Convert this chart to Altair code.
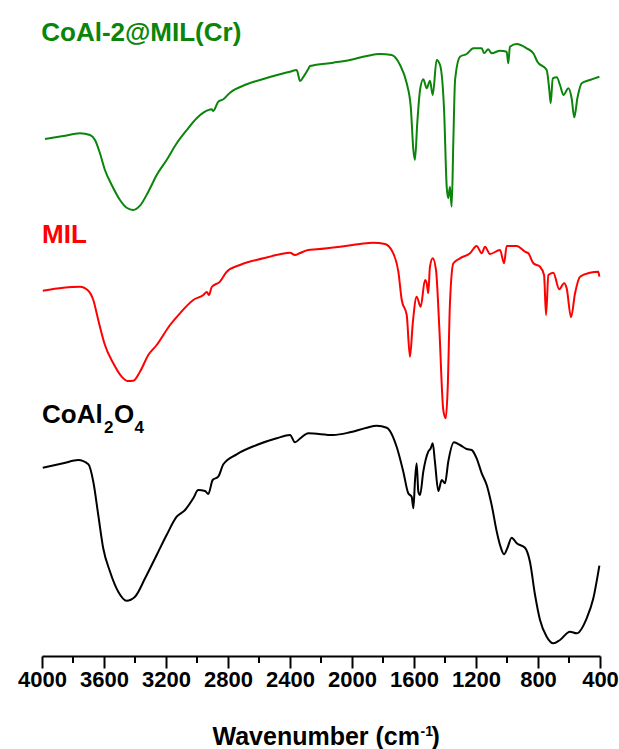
import altair as alt
import pandas as pd

# ---- data (wavenumber in cm-1, offset intensity in a.u.) ----
green_wn = [3981, 3863, 3755, 3690, 3658, 3626, 3594, 3550, 3497, 3454,
            3411, 3368, 3314, 3260, 3196, 3131, 3066, 3002, 2959, 2905,
            2895, 2863, 2830, 2787, 2679, 2572, 2465, 2400, 2357, 2335,
            2314, 2282, 2271, 2121, 2013, 1905, 1819, 1744, 1690, 1647,
            1621, 1604, 1594, 1579, 1561, 1540, 1518, 1497, 1479, 1454,
            1432, 1406, 1389, 1379, 1368, 1357, 1346, 1335, 1303, 1260,
            1217, 1163, 1148, 1121, 1099, 1045, 1002, 992, 981, 937,
            873, 830, 804, 744, 727, 718, 705, 679, 658, 636,
            604, 583, 566, 546, 518, 465, 404]
green_val = [517, 520, 522.7, 521, 516, 502.7, 486, 471, 456, 448.3,
             446, 450.3, 464.3, 481, 496, 512.7, 526, 537.7, 543.3, 546.7,
             545, 554.3, 556.7, 563.3, 571.7, 577, 581.7, 584.3, 586, 575,
             579, 587, 590, 593.3, 596, 600, 602, 601, 591, 572.7,
             549.3, 506, 496, 532.7, 566, 576.7, 567.7, 575.3, 561, 596,
             591, 546, 469.3, 457.7, 469.3, 449.3, 516, 576, 599.3, 602,
             607.7, 607.7, 602.7, 606.7, 602.7, 605.3, 604.3, 592.7, 609.3, 612,
             607.7, 602.7, 594.3, 586, 566, 552.7, 577.7, 578.7, 571, 561,
             567.7, 557.7, 538.7, 557.7, 572.7, 576, 579.3]

red_wn = [3995, 3863, 3755, 3701, 3669, 3637, 3594, 3540, 3486, 3450,
          3411, 3368, 3314, 3260, 3174, 3110, 3024, 2959, 2937, 2923,
          2905, 2852, 2808, 2723, 2572, 2465, 2400, 2368, 2335, 2282,
          2228, 2077, 1948, 1863, 1787, 1734, 1701, 1679, 1647, 1626,
          1608, 1583, 1557, 1529, 1518, 1508, 1497, 1479, 1458, 1437,
          1411, 1395, 1383, 1368, 1346, 1303, 1239, 1196, 1163, 1142,
          1110, 1045, 1019, 1002, 937, 884, 862, 830, 787, 761,
          748, 733, 701, 663, 632, 615, 587, 561, 529, 465,
          411, 404]
red_val = [365.3, 368.3, 369.3, 365.3, 356, 336, 311, 292.7, 279.3, 275,
           275.3, 284.3, 301, 311, 331, 342.7, 356, 361, 364, 361,
           369, 374.3, 384.3, 391, 397.7, 401.7, 403.3, 401, 403, 406,
           406.7, 409.3, 412, 413.3, 412, 402.7, 384.3, 356, 341, 299.3,
           332.7, 359.3, 349.3, 376, 372.7, 362.7, 389.3, 397.7, 386, 329.3,
           246, 237.7, 266, 352.7, 392.7, 397.7, 402.7, 410, 402.7, 409.3,
           402, 406, 392.7, 410, 410, 404.3, 402.7, 392.7, 389.3, 381,
           341, 381, 383.3, 366.7, 372.7, 367.7, 338.7, 362.7, 379.3, 383.3,
           384.3, 379.3]

black_wn = [3995, 3863, 3766, 3701, 3669, 3637, 3605, 3561, 3508, 3454,
            3400, 3335, 3260, 3196, 3131, 3077, 3024, 2992, 2948, 2927,
            2899, 2863, 2830, 2744, 2615, 2486, 2400, 2368, 2335, 2282,
            2121, 2013, 1905, 1841, 1776, 1712, 1669, 1637, 1615, 1604,
            1594, 1583, 1572, 1561, 1540, 1508, 1492, 1479, 1465, 1443,
            1421, 1400, 1379, 1342, 1303, 1260, 1228, 1196, 1163, 1131,
            1099, 1066, 1045, 1019, 998, 970, 937, 884, 852, 819,
            787, 744, 701, 658, 594, 550, 486, 443, 404]
black_val = [188.3, 192.7, 196, 191.7, 174.3, 141, 107.7, 84.3, 64.3, 55.3,
             59.3, 77.7, 101, 121, 139.3, 146, 157.7, 166, 165, 162,
             176, 179.3, 191.7, 201.7, 211, 217.7, 221, 213.7, 217.5, 222.7,
             221, 223.7, 228.3, 230.3, 228.3, 209.3, 184.3, 162.7, 159.3, 147.7,
             174.3, 192.7, 164.3, 161, 184.3, 204.3, 207.7, 212.7, 194.3, 165,
             176, 172.7, 194.3, 213.7, 211, 207, 206, 197.7, 182.7, 171,
             151, 124.3, 111, 101.7, 107.7, 118.3, 112.7, 108.3, 94.3, 61,
             36, 19.3, 12.7, 16, 24.3, 22.7, 37.7, 57.7, 90.3]

sample_names = ["CoAl-2@MIL(Cr)", "MIL", "CoAl2O4"]
sample_colors = ["#0a850a", "#ff0000", "#000000"]

major_ticks = [4000, 3600, 3200, 2800, 2400, 2000, 1600, 1200, 800, 400]
minor_ticks = [3800, 3400, 3000, 2600, 2200, 1800, 1400, 1000, 600]

label_text = ["CoAl-2@MIL(Cr)", "MIL", "CoAl"]
label_wn = [4005, 4000, 4000]
label_val = [615, 412.7, 232.7]

# ---- build tables ----
rows = []
for name, wns, vals in zip(sample_names, [green_wn, red_wn, black_wn],
                           [green_val, red_val, black_val]):
    for w, v in zip(wns, vals):
        rows.append({"wn": w, "val": v, "sample": name})
df = pd.DataFrame(rows)

labels = pd.DataFrame({"text": label_text, "wn": label_wn, "val": label_val,
                       "sample": sample_names})
minor_df = pd.DataFrame({"wn": minor_ticks})

W, H = 558, 656
FONT = "Liberation Sans"

xscale = alt.Scale(domain=[400, 4000], reverse=True, nice=False, zero=False)
yscale = alt.Scale(domain=[0, H], nice=False, zero=False)
cscale = alt.Scale(domain=sample_names, range=sample_colors)

xaxis = alt.Axis(values=major_ticks, format="d", title=None, grid=False,
                 labelFont=FONT, labelFontSize=22, labelFontWeight="bold",
                 labelColor="black", labelBaseline="alphabetic", labelPadding=18,
                 labelFlush=False, labelOverlap=False,
                 tickSize=12, tickWidth=2, tickColor="black",
                 domainColor="black", domainWidth=2)

lines = alt.Chart(df).mark_line(strokeWidth=2, clip=False, interpolate="monotone").encode(
    x=alt.X("wn:Q", scale=xscale, axis=xaxis),
    y=alt.Y("val:Q", scale=yscale, axis=None),
    color=alt.Color("sample:N", scale=cscale, legend=None),
    detail="sample:N",
)

minor = alt.Chart(minor_df).mark_rule(color="black", strokeWidth=2).encode(
    x=alt.X("wn:Q", scale=xscale),
    y=alt.value(H),
    y2=alt.value(H + 7),
)

names = alt.Chart(labels).mark_text(
    font=FONT, fontSize=26, fontWeight="bold", align="left", baseline="alphabetic"
).encode(
    x=alt.X("wn:Q", scale=xscale),
    y=alt.Y("val:Q", scale=yscale),
    text="text:N",
    color=alt.Color("sample:N", scale=cscale, legend=None),
)

black_anchor = labels[labels["sample"] == "CoAl2O4"]
sub2 = alt.Chart(black_anchor).mark_text(
    font=FONT, fontSize=17, fontWeight="bold", align="left", baseline="alphabetic",
    dx=62, dy=10, color="black"
).encode(x=alt.X("wn:Q", scale=xscale), y=alt.Y("val:Q", scale=yscale), text=alt.value("2"))
letO = alt.Chart(black_anchor).mark_text(
    font=FONT, fontSize=26, fontWeight="bold", align="left", baseline="alphabetic",
    dx=72, color="black"
).encode(x=alt.X("wn:Q", scale=xscale), y=alt.Y("val:Q", scale=yscale), text=alt.value("O"))
sub4 = alt.Chart(black_anchor).mark_text(
    font=FONT, fontSize=17, fontWeight="bold", align="left", baseline="alphabetic",
    dx=92.5, dy=10, color="black"
).encode(x=alt.X("wn:Q", scale=xscale), y=alt.Y("val:Q", scale=yscale), text=alt.value("4"))

title_main = alt.Chart(minor_df.head(1)).mark_text(
    font=FONT, fontSize=25, fontWeight="bold", align="right", baseline="alphabetic",
    color="black"
).encode(x=alt.value(378), y=alt.value(745), text=alt.value("Wavenumber (cm"))
title_sup = alt.Chart(minor_df.head(1)).mark_text(
    font=FONT, fontSize=14, fontWeight="bold", align="left", baseline="alphabetic",
    color="black"
).encode(x=alt.value(378.5), y=alt.value(736), text=alt.value("-1"))
title_close = alt.Chart(minor_df.head(1)).mark_text(
    font=FONT, fontSize=25, fontWeight="bold", align="left", baseline="alphabetic",
    color="black"
).encode(x=alt.value(389.5), y=alt.value(745), text=alt.value(")"))

chart = alt.layer(lines, minor, names, sub2, letO, sub4,
                  title_main, title_sup, title_close).properties(
    width=W, height=H,
    autosize=alt.AutoSizeParams(type="none"),
    padding={"left": 42, "top": 0, "right": 19, "bottom": 93},
    background="white",
).configure_view(stroke=None)

chart.save("out.html", embed_options={"renderer": "svg", "actions": False})
